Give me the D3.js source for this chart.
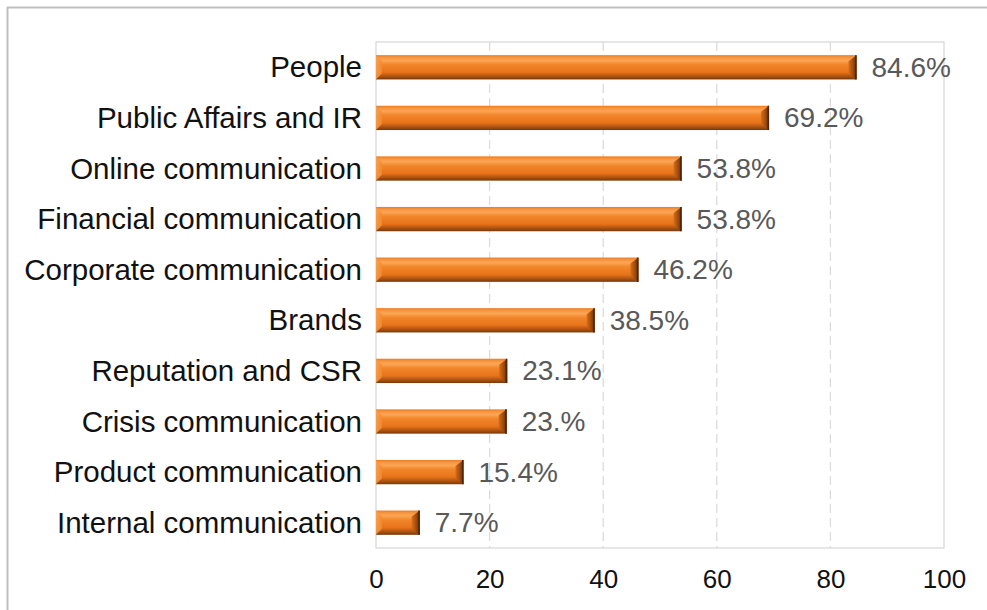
<!DOCTYPE html>
<html>
<head>
<meta charset="utf-8">
<script src="https://cdn.jsdelivr.net/npm/d3@7/dist/d3.min.js"></script>
<style>
  html, body { margin: 0; padding: 0; background: #fff; }
  svg { display: block; font-family: "Liberation Sans", Arial, sans-serif; }
</style>
</head>
<body>
<svg id="chart" width="987" height="610"></svg>
<script>
// Practice areas and share of respondents (%)
const categories = [
  "People",
  "Public Affairs and IR",
  "Online communication",
  "Financial communication",
  "Corporate communication",
  "Brands",
  "Reputation and CSR",
  "Crisis communication",
  "Product communication",
  "Internal communication"
];
const values = [84.6, 69.2, 53.8, 53.8, 46.2, 38.5, 23.1, 23, 15.4, 7.7];
const valueLabels = ["84.6%", "69.2%", "53.8%", "53.8%", "46.2%", "38.5%", "23.1%", "23.%", "15.4%", "7.7%"];
const xTicks = [0, 20, 40, 60, 80, 100];

const svg = d3.select("#chart");
const plot = { left: 376, right: 944, top: 42, bottom: 548 };

// outer frame (top and left edges)
svg.append("line").attr("x1", 7).attr("x2", 987).attr("y1", 7.5).attr("y2", 7.5)
  .attr("stroke", "#bfbfbf").attr("stroke-width", 2);
svg.append("line").attr("x1", 7.5).attr("x2", 7.5).attr("y1", 7).attr("y2", 610)
  .attr("stroke", "#bfbfbf").attr("stroke-width", 2);

const x = d3.scaleLinear().domain([0, 100]).range([plot.left, plot.right]);
const y = d3.scaleBand().domain(categories).range([plot.top, plot.bottom])
  .paddingInner(0.52).paddingOuter(0.26);

// gradients for the bevelled bars
const defs = svg.append("defs");
const gBody = defs.append("linearGradient").attr("id", "barBody")
  .attr("x1", 0).attr("y1", 0).attr("x2", 0).attr("y2", 1);
[[0, "#ec7c22"], [0.1, "#f79640"], [0.22, "#fba656"], [0.38, "#f2862a"],
 [0.7, "#e8741a"], [0.8, "#c65f16"], [0.9, "#a24e0e"], [1, "#7a380a"]]
  .forEach(([o, c]) => gBody.append("stop").attr("offset", o).attr("stop-color", c));
const gRight = defs.append("linearGradient").attr("id", "barRight")
  .attr("x1", 0).attr("y1", 0).attr("x2", 1).attr("y2", 0);
[[0, "#d86c18"], [0.6, "#9a4a0e"], [1, "#5e2c07"]]
  .forEach(([o, c]) => gRight.append("stop").attr("offset", o).attr("stop-color", c));
const gLeft = defs.append("linearGradient").attr("id", "barLeft")
  .attr("x1", 0).attr("y1", 0).attr("x2", 1).attr("y2", 0);
[[0, "#f7a050"], [1, "#f28a30"]]
  .forEach(([o, c]) => gLeft.append("stop").attr("offset", o).attr("stop-color", c));

// dashed gridlines
svg.append("g").selectAll("line")
  .data(xTicks.filter(t => t > 0 && t < 100))
  .join("line")
  .attr("x1", d => x(d)).attr("x2", d => x(d))
  .attr("y1", plot.top).attr("y2", plot.bottom)
  .attr("stroke", "#dcdcdc").attr("stroke-width", 1.3)
  .attr("stroke-dasharray", "9,5");

// plot area border
svg.append("rect")
  .attr("x", plot.left).attr("y", plot.top)
  .attr("width", plot.right - plot.left).attr("height", plot.bottom - plot.top)
  .attr("fill", "none").attr("stroke", "#d9d9d9").attr("stroke-width", 1.3);

// bars
const bev = 6;
const bars = svg.append("g").selectAll("g").data(categories).join("g");
bars.each(function (c, i) {
  const g = d3.select(this);
  const x0 = x(0), x1 = x(values[i]);
  const y0 = y(c), y1 = y(c) + y.bandwidth();
  const b = Math.min(bev, (x1 - x0) / 3);
  g.append("rect").attr("x", x0).attr("y", y0)
    .attr("width", x1 - x0).attr("height", y1 - y0)
    .attr("fill", "url(#barBody)");
  g.append("polygon")
    .attr("points", [[x0, y0], [x0 + b, y0 + b], [x0 + b, y1 - b], [x0, y1]].map(p => p.join(",")).join(" "))
    .attr("fill", "url(#barLeft)").attr("opacity", 0.85);
  g.append("polygon")
    .attr("points", [[x1, y0], [x1 - b - 2, y0 + b], [x1 - b - 2, y1 - b], [x1, y1]].map(p => p.join(",")).join(" "))
    .attr("fill", "url(#barRight)");
  g.append("line").attr("x1", x1 - 0.75).attr("x2", x1 - 0.75).attr("y1", y0).attr("y2", y1)
    .attr("stroke", "#4f2505").attr("stroke-width", 1.5);
});

// value labels
svg.append("g").selectAll("text").data(categories).join("text")
  .attr("x", (c, i) => x(values[i]) + 15)
  .attr("y", c => y(c) + y.bandwidth() / 2)
  .attr("dy", "0.34em")
  .attr("font-size", 28)
  .attr("fill", "#595959")
  .text((c, i) => valueLabels[i]);

// category axis labels
const yAxis = d3.axisLeft(y).tickSize(0).tickPadding(14);
const yg = svg.append("g").attr("transform", `translate(${plot.left},0)`).call(yAxis);
yg.select(".domain").remove();
yg.selectAll("text").attr("font-size", 29.5).attr("fill", "#111")
  .attr("font-family", "'Liberation Sans', Arial, sans-serif").attr("dy", "0.34em");

// value axis ticks
const xAxis = d3.axisBottom(x).tickValues(xTicks).tickSize(0).tickPadding(22).tickFormat(d3.format("d"));
const xg = svg.append("g").attr("transform", `translate(0,${plot.bottom})`).call(xAxis);
xg.select(".domain").remove();
xg.selectAll("text").attr("font-size", 26).attr("fill", "#111")
  .attr("font-family", "'Liberation Sans', Arial, sans-serif");
</script>
</body>
</html>
